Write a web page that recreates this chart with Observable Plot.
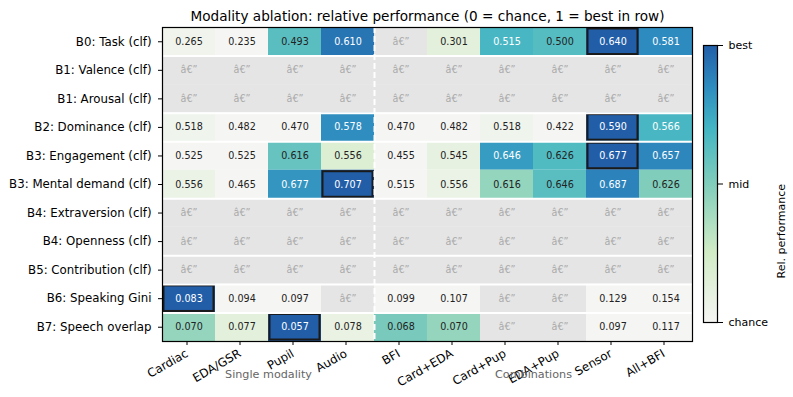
<!DOCTYPE html>
<html>
<head>
<meta charset="utf-8">
<script src="https://cdn.jsdelivr.net/npm/d3@7"></script>
<script src="https://cdn.jsdelivr.net/npm/@observablehq/plot@0.6"></script>
<style>
  body { margin: 0; background: #fff; }
  #chart { position: relative; width: 793px; height: 397px; font-family: "DejaVu Sans", sans-serif; }
  #chart svg { position: absolute; top: 0; overflow: visible; }
  #chart svg.heat g[aria-label$="tick label"],
  #chart svg.heat g[aria-label$="tick label"] text { font-family: "DejaVu Sans", sans-serif !important; font-size: 11.8px !important; }
  #chart svg.cbar g[aria-label$="tick label"],
  #chart svg.cbar g[aria-label$="tick label"] text { font-family: "DejaVu Sans", sans-serif !important; font-size: 11px !important; }
</style>
</head>
<body>
<div id="chart"></div>
<script>
// Targets (rows) and feature sets (columns)
const rows = [
  "B0: Task (clf)", "B1: Valence (clf)", "B1: Arousal (clf)", "B2: Dominance (clf)",
  "B3: Engagement (clf)", "B3: Mental demand (clf)", "B4: Extraversion (clf)",
  "B4: Openness (clf)", "B5: Contribution (clf)", "B6: Speaking Gini", "B7: Speech overlap"
];
const columns = ["Cardiac", "EDA/GSR", "Pupil", "Audio", "BFI", "Card+EDA", "Card+Pup", "EDA+Pup", "Sensor", "All+BFI"];

// Scores per target (null = not available)
const b0Task        = [0.265, 0.235, 0.493, 0.610, null, 0.301, 0.515, 0.500, 0.640, 0.581];
const b1Valence     = [null, null, null, null, null, null, null, null, null, null];
const b1Arousal     = [null, null, null, null, null, null, null, null, null, null];
const b2Dominance   = [0.518, 0.482, 0.470, 0.578, 0.470, 0.482, 0.518, 0.422, 0.590, 0.566];
const b3Engagement  = [0.525, 0.525, 0.616, 0.556, 0.455, 0.545, 0.646, 0.626, 0.677, 0.657];
const b3Mental      = [0.556, 0.465, 0.677, 0.707, 0.515, 0.556, 0.616, 0.646, 0.687, 0.626];
const b4Extraversion = [null, null, null, null, null, null, null, null, null, null];
const b4Openness    = [null, null, null, null, null, null, null, null, null, null];
const b5Contribution = [null, null, null, null, null, null, null, null, null, null];
const b6SpeakingGini = [0.083, 0.094, 0.097, null, 0.099, 0.107, null, null, 0.129, 0.154];
const b7SpeechOverlap = [0.070, 0.077, 0.057, 0.078, 0.068, 0.070, null, null, 0.097, 0.117];
const rowValues = [b0Task, b1Valence, b1Arousal, b2Dominance, b3Engagement, b3Mental,
  b4Extraversion, b4Openness, b5Contribution, b6SpeakingGini, b7SpeechOverlap];

// Chance level per target, and whether lower scores are better
const chanceLevel = [0.25, null, null, 0.515, 0.53, 0.545, null, null, null, 0.09, 0.08];
const lowerIsBetter = [false, false, false, false, false, false, false, false, false, true, true];

// Column groups
const groupLabels = ["Single modality", "Combinations"];
const groupStart = [0, 4];
const groupEnd = [4, 10];

// Colour ramp for relative performance
const colorDomain = [0, 0.25, 0.5, 0.7, 0.85, 1];
const colorRange = ["#f5f5f3", "#d2ecc6", "#80cdbb", "#43b5c4", "#2e8bbf", "#225ea8"];
const colorbarTicks = [0, 0.5, 1];
const colorbarLabels = ["chance", "mid", "best"];

const title = "Modality ablation: relative performance (0 = chance, 1 = best in row)";
const missingText = "\u00e2\u20ac\u201d";

// Build the cell table
const cells = [];
rows.forEach((r, i) => {
  const vals = rowValues[i];
  const present = vals.filter(v => v != null);
  const best = present.length ? (lowerIsBetter[i] ? d3.min(present) : d3.max(present)) : null;
  const c = chanceLevel[i];
  columns.forEach((col, j) => {
    const v = vals[j];
    let rel = null;
    if (v != null && c != null) {
      rel = lowerIsBetter[i] ? (c - v) / (c - best) : (v - c) / (best - c);
      rel = Math.max(0, Math.min(1, rel));
    }
    cells.push({i, j, v, rel, best: v != null && v === best});
  });
});
const filled = cells.filter(d => d.v != null);
const missing = cells.filter(d => d.v == null);
const bestCells = cells.filter(d => d.best);

// Row-group boundaries (where the B-number changes)
const prefix = r => r.split(":")[0];
const boundaries = rows.map((r, i) => i).filter(i => i > 0 && prefix(rows[i]) !== prefix(rows[i - 1]));

const main = Plot.plot({
  width: 700,
  height: 397,
  marginLeft: 162,
  marginRight: 8,
  marginTop: 27,
  marginBottom: 56,
  style: {fontFamily: "DejaVu Sans, sans-serif", fontSize: "11.8px", color: "black", background: "white"},
  x: {domain: [0, columns.length]},
  y: {domain: [0, rows.length], reverse: true},
  color: {type: "linear", domain: colorDomain, range: colorRange, clamp: true},
  marks: [
    Plot.rect(missing, {x1: d => d.j, x2: d => d.j + 1, y1: d => d.i, y2: d => d.i + 1, fill: "#e5e5e5"}),
    Plot.rect(filled, {x1: d => d.j, x2: d => d.j + 1, y1: d => d.i, y2: d => d.i + 1, fill: d => d.rel}),
    Plot.text(missing, {x: d => d.j + 0.5, y: d => d.i + 0.5, text: () => missingText, fill: "#aaa", fontSize: 9.6}),
    Plot.text(filled.filter(d => d.rel <= 0.66), {x: d => d.j + 0.5, y: d => d.i + 0.5, text: d => d.v.toFixed(3), fill: "#222", fontSize: 9.6}),
    Plot.text(filled.filter(d => d.rel > 0.66), {x: d => d.j + 0.5, y: d => d.i + 0.5, text: d => d.v.toFixed(3), fill: "white", fontSize: 9.6}),
    Plot.rect(bestCells, {x1: d => d.j, x2: d => d.j + 1, y1: d => d.i, y2: d => d.i + 1, fill: "none", stroke: "#1a1a1a", strokeWidth: 2, inset: 1.5}),
    Plot.ruleY(boundaries, {stroke: "white", strokeWidth: 2}),
    Plot.ruleX([groupStart[1]], {stroke: "white", strokeWidth: 2, strokeDasharray: "6,3"}),
    Plot.frame({stroke: "black", strokeWidth: 1.2}),
    Plot.axisY({ticks: rows.map((r, i) => i + 0.5), tickFormat: v => rows[Math.floor(v)], tickSize: 4, tickPadding: 7, label: null}),
    Plot.axisX({ticks: columns.map((c, j) => j + 0.5), tickFormat: v => columns[Math.floor(v)], tickSize: 4, tickPadding: 7, dx: -2, tickRotate: -30, label: null}),
    Plot.text(groupLabels, {x: (d, k) => (groupStart[k] + groupEnd[k]) / 2, frameAnchor: "bottom", dy: 36, fill: "#666", fontSize: 11.2}),
    Plot.text([title], {frameAnchor: "top", dy: -16, fontSize: 13.6, fill: "black"})
  ]
});
main.classList.add("heat");
main.style.left = "0px";

const cbar = Plot.plot({
  width: 93,
  height: 397,
  marginLeft: 3,
  marginRight: 76,
  marginTop: 45,
  marginBottom: 75,
  style: {fontFamily: "DejaVu Sans, sans-serif", fontSize: "11px", color: "black", background: "transparent"},
  x: {domain: [0, 1], axis: null},
  y: {domain: [0, 1]},
  marks: [
    Plot.rect([0], {x1: 0, x2: 1, y1: 0, y2: 1, fill: "url(#relGradient)"}),
    Plot.frame({stroke: "black", strokeWidth: 1.2}),
    Plot.axisY({anchor: "right", ticks: colorbarTicks, tickFormat: (v) => colorbarLabels[colorbarTicks.indexOf(v)], tickSize: 5, tickPadding: 6, label: null}),
    Plot.text(["Rel. performance"], {frameAnchor: "right", rotate: -90, dx: 64, fontSize: 11})
  ]
});
cbar.classList.add("cbar");
cbar.style.left = "700px";

// Vertical gradient built from the same colour ramp
const grad = d3.select(cbar).insert("defs", ":first-child")
  .append("linearGradient")
  .attr("id", "relGradient")
  .attr("x1", 0).attr("y1", 1).attr("x2", 0).attr("y2", 0);
colorDomain.forEach((t, k) => grad.append("stop").attr("offset", t).attr("stop-color", colorRange[k]));

document.getElementById("chart").append(main, cbar);
</script>
</body>
</html>
